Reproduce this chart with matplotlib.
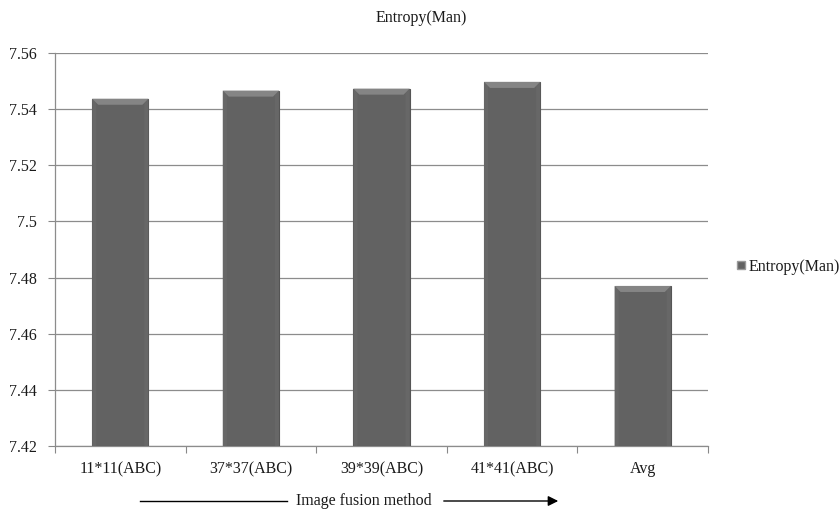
import matplotlib
matplotlib.use("Agg")
import matplotlib.pyplot as plt
from matplotlib.patches import Polygon
from matplotlib.lines import Line2D

categories = ["11*11(ABC)", "37*37(ABC)", "39*39(ABC)", "41*41(ABC)", "Avg"]
values = [7.5437, 7.5466, 7.5473, 7.5497, 7.4770]
series_name = "Entropy(Man)"
yticks = [7.42, 7.44, 7.46, 7.48, 7.50, 7.52, 7.54, 7.56]
ytick_labels = ["7.42", "7.44", "7.46", "7.48", "7.5", "7.52", "7.54", "7.56"]

plt.rcParams['font.family'] = ['Liberation Serif', 'DejaVu Serif']
FS = 11.5
TXT = "#1a1a1a"

fig = plt.figure(figsize=(8.39, 5.12), dpi=100)
ax = fig.add_axes([55/839, 1-446/512, (708-55)/839, (446-53)/512])

x = list(range(len(categories)))
bars = ax.bar(x, [v - 7.42 for v in values], bottom=7.42, width=0.43,
              color="#626262", edgecolor="#555555", linewidth=0.8, zorder=3)

ax.set_ylim(7.42, 7.56)
ax.set_xlim(-0.5, len(categories) - 0.5)
ax.set_yticks(yticks)
ax.set_yticklabels(ytick_labels, fontsize=FS, color=TXT)
ax.set_xticks(x)
ax.set_xticklabels(categories, fontsize=FS, color=TXT)
ax.tick_params(axis='x', length=0, pad=11)
ax.set_xticks([i - 0.5 for i in range(len(categories) + 1)], minor=True)
ax.tick_params(axis='x', which='minor', length=5, color="#888888", width=0.8)
ax.tick_params(axis='y', length=5, color="#888888", width=0.8, pad=8)

ax.yaxis.grid(True, color="#8c8c8c", linewidth=0.9, zorder=0)
for s in ["top", "right"]:
    ax.spines[s].set_visible(False)
for s in ["left", "bottom"]:
    ax.spines[s].set_color("#8c8c8c")
    ax.spines[s].set_linewidth(0.9)

# bevel highlights on bar tops and sides
fig.canvas.draw()
to_px = ax.transData
to_data = ax.transData.inverted()
ybase = to_px.transform((0, 7.42))[1]
for b in bars:
    x0, y0 = b.get_x(), b.get_y() + b.get_height()
    x1 = x0 + b.get_width()
    (px0, py1) = to_px.transform((x0, y0))
    (px1, _) = to_px.transform((x1, y0))
    d = 6
    for sp in ([(px0, py1), (px0 + 4, py1 - 4), (px0 + 4, ybase), (px0, ybase)],
               [(px1, py1), (px1 - 4, py1 - 4), (px1 - 4, ybase), (px1, ybase)]):
        ax.add_patch(Polygon([to_data.transform(p) for p in sp], closed=True,
                             facecolor="#676767", edgecolor="none", zorder=4))
    pts = [(px0, py1), (px1, py1), (px1 - d, py1 - d), (px0 + d, py1 - d)]
    ax.add_patch(Polygon([to_data.transform(p) for p in pts], closed=True,
                         facecolor="#858585", edgecolor="none", zorder=4))

fig.text(421/839, 1-18/512, series_name, ha="center", va="center", fontsize=FS, color=TXT)

handle = Line2D([], [], marker="s", linestyle="none", markersize=6,
                markerfacecolor="#626262", markeredgecolor="#9a9a9a")
fig.legend([handle], [series_name], loc="center left", bbox_to_anchor=(728/839, 1-267/512),
           frameon=False, fontsize=FS, handletextpad=0.1, handlelength=0.8, borderaxespad=0,
           labelcolor=TXT)

# x label with arrows
yl = 1 - 501/512
fig.text(364/839, yl, "Image fusion method", ha="center", va="center", fontsize=FS, color=TXT)
fig.add_artist(Line2D([140/839, 287/839], [yl, yl], color="black", linewidth=1,
                      transform=fig.transFigure))
fig.add_artist(matplotlib.patches.FancyArrowPatch((441/839, yl), (561/839, yl),
               transform=fig.transFigure, arrowstyle="-|>", mutation_scale=15, color="black", linewidth=1))

fig.savefig("out.png", dpi=100)
